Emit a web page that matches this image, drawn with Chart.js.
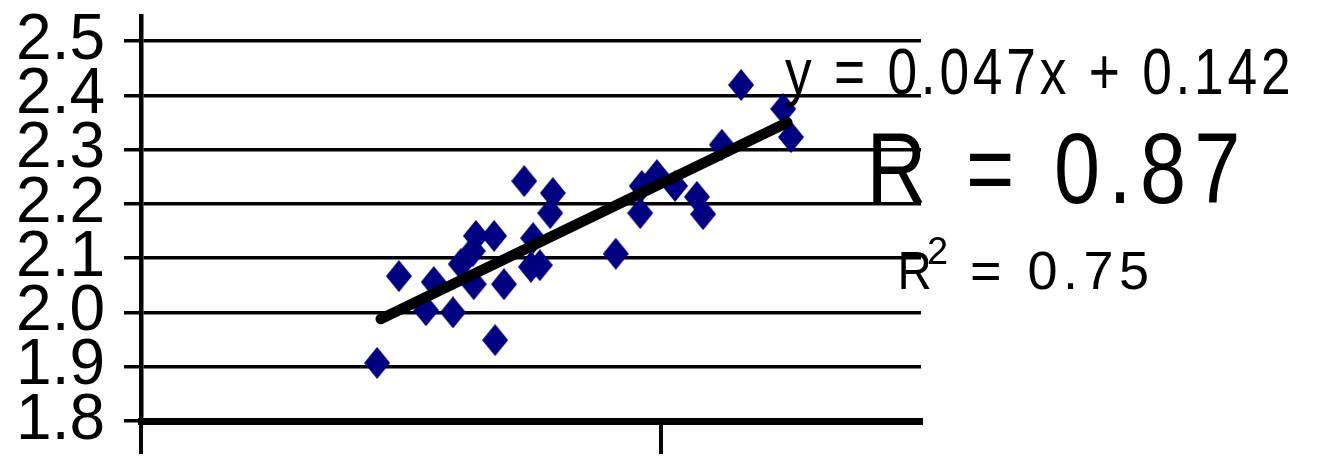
<!DOCTYPE html>
<html>
<head>
<meta charset="utf-8">
<script src="https://cdn.jsdelivr.net/npm/chart.js@4.4.1/dist/chart.umd.min.js"></script>
<style>
html,body{margin:0;padding:0;background:#fff;overflow:hidden}
#wrap{width:1336px;height:461px;position:relative}
</style>
</head>
<body>
<div id="wrap"><canvas id="c" width="1336" height="461"></canvas></div>
<script>
// ---- data ----
const xValues = [39.54, 39.96, 40.48, 40.63, 41.00, 41.15, 41.38, 41.44, 41.40, 41.79, 41.81, 41.98,
                 42.37, 42.92, 42.87, 42.54, 42.50, 42.67, 44.13, 44.60, 44.63, 44.92, 45.27, 45.69,
                 45.81, 46.17, 46.54, 47.35, 47.50];
const yValues = [1.907, 2.067, 2.004, 2.056, 2.000, 2.089, 2.113, 2.141, 2.052, 2.141, 1.949, 2.052,
                 2.242, 2.220, 2.183, 2.137, 2.084, 2.087, 2.108, 2.183, 2.233, 2.253, 2.233, 2.213,
                 2.181, 2.309, 2.419, 2.375, 2.323];
const trendX = [39.61, 47.43];
const trendY = [1.988, 2.350];
const yTicks = [1.8, 1.9, 2.0, 2.1, 2.2, 2.3, 2.4, 2.5];
const xTicks = [35, 45];
const equationText = 'y = 0.047x + 0.142';
const rText = 'R = 0.87';
const r2Letter = 'R';
const r2Power = '2';
const r2Value = '= 0.75';

// ---- styles / layout ----
const FONT = '"Liberation Sans", Arial, sans-serif';
const notes = [
  { text: equationText, left: 785, baseline: 94, size: 65, sx: 0.82, width: 503 },
  { text: rText, left: 873, baseline: 203, size: 101, sx: 0.82, width: 364 },
  { text: r2Letter, left: 901, baseline: 289, size: 54, sx: 0.88, width: 0 },
  { text: r2Power, left: 928, baseline: 264, size: 38, sx: 1.0, width: 0 },
  { text: r2Value, left: 972, baseline: 289, size: 54, sx: 1.0, width: 175 }
];

function drawTracked(ctx, n) {
  ctx.save();
  ctx.font = n.size + 'px ' + FONT;
  ctx.fillStyle = '#000';
  ctx.textBaseline = 'alphabetic';
  ctx.textAlign = 'left';
  try { ctx.letterSpacing = '0px'; } catch (e) {}
  const chars = Array.from(n.text);
  const adv = chars.map(c => ctx.measureText(c).width * n.sx);
  const first = ctx.measureText(chars[0]);
  const last = ctx.measureText(chars[chars.length - 1]);
  const leftBear = -first.actualBoundingBoxLeft * n.sx;
  const lastInkEnd = last.actualBoundingBoxRight * n.sx;
  let sum = 0;
  for (let i = 0; i < chars.length - 1; i++) sum += adv[i];
  const cnt = chars.length;
  const sp = cnt > 1 ? (n.width - (sum + lastInkEnd - leftBear)) / (cnt - 1) : 0;
  let x = n.left - leftBear;
  chars.forEach((c, i) => {
    ctx.save();
    ctx.translate(x, n.baseline);
    ctx.scale(n.sx, 1);
    ctx.fillText(c, 0, 0);
    ctx.restore();
    x += adv[i] + sp;
  });
  ctx.restore();
}

const notesPlugin = {
  id: 'notes',
  afterDraw(chart) {
    notes.forEach(n => drawTracked(chart.ctx, n));
  }
};

// diamond marker (taller than wide)
const diamond = document.createElement('canvas');
diamond.width = 26; diamond.height = 32;
(function () {
  const d = diamond.getContext('2d');
  d.fillStyle = '#000080';
  d.beginPath();
  d.moveTo(13, 0); d.lineTo(26, 16); d.lineTo(13, 32); d.lineTo(0, 16);
  d.closePath();
  d.fill();
})();

new Chart(document.getElementById('c').getContext('2d'), {
  type: 'scatter',
  data: {
    datasets: [
      {
        type: 'line',
        data: trendX.map((x, i) => ({ x: x, y: trendY[i] })),
        borderColor: '#000',
        borderWidth: 10.5,
        borderCapStyle: 'round',
        pointRadius: 0,
        fill: false,
        tension: 0,
        order: 0
      },
      {
        type: 'scatter',
        data: xValues.map((x, i) => ({ x: x, y: yValues[i] })),
        pointStyle: diamond,
        pointRadius: 13,
        pointHoverRadius: 13,
        order: 1
      }
    ]
  },
  options: {
    responsive: false,
    animation: false,
    devicePixelRatio: 1,
    events: [],
    layout: { padding: { left: 0, right: 415, top: 16, bottom: 7 } },
    plugins: { legend: { display: false }, tooltip: { enabled: false } },
    scales: {
      x: {
        type: 'linear',
        min: 35,
        max: 50,
        afterBuildTicks: s => { s.ticks = xTicks.map(v => ({ value: v })); },
        ticks: { display: false },
        grid: { display: true, drawOnChartArea: false, drawTicks: true, tickLength: 33, lineWidth: 4, color: '#000' },
        border: { display: true, width: 7, color: '#000' }
      },
      y: {
        type: 'linear',
        min: 1.8,
        max: 2.5461,
        afterBuildTicks: s => { s.ticks = yTicks.map(v => ({ value: v })); },
        afterFit: s => { s.width = 141; s.paddingTop = 0; s.paddingBottom = 0; },
        ticks: {
          color: '#000',
          autoSkip: false,
          padding: 19,
          font: { family: FONT, size: 64 },
          callback: v => Number(v).toFixed(1)
        },
        grid: { color: '#000', lineWidth: 3.5, tickLength: 17, drawTicks: true },
        border: { display: true, width: 4.5, color: '#000' }
      }
    }
  },
  plugins: [notesPlugin]
});
</script>
</body>
</html>
